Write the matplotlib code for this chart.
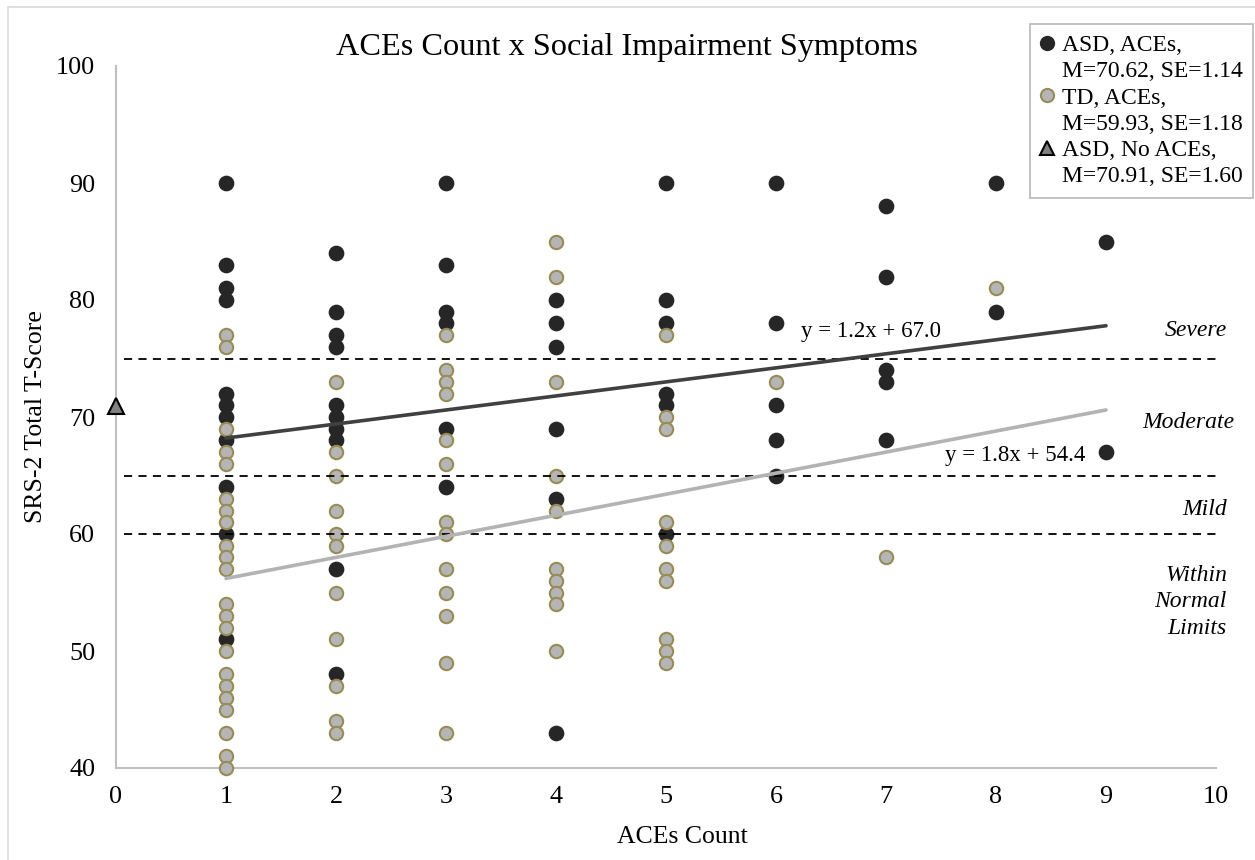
import matplotlib
matplotlib.use('Agg')
import matplotlib.pyplot as plt
from matplotlib.lines import Line2D
from matplotlib.patches import Rectangle

plt.rcParams['font.family'] = ['Liberation Serif', 'DejaVu Serif']

# ASD with ACEs: x = ACEs count, y = SRS-2 T-score
asd_x = [1] * 11 + [2] * 10 + [3] * 6 + [4] * 6 + [5] * 6 + [6] * 5 + [7] * 5 + [8] * 2 + [9] * 2
asd_y = [90, 83, 81, 80, 72, 71, 70, 68, 64, 60, 51,
         84, 79, 77, 76, 71, 70, 69, 68, 57, 48,
         90, 83, 79, 78, 69, 64,
         80, 78, 76, 69, 63, 43,
         90, 80, 78, 72, 71, 60,
         90, 78, 71, 68, 65,
         88, 82, 74, 73, 68,
         90, 79,
         85, 67]

# TD with ACEs
td_x = [1] * 22 + [2] * 11 + [3] * 13 + [4] * 10 + [5] * 10 + [6] + [7] + [8]
td_y = [77, 76, 69, 67, 66, 63, 62, 61, 59, 58, 57, 54, 53, 52, 50, 48, 47, 46, 45, 43, 41, 40,
        73, 67, 65, 62, 60, 59, 55, 51, 47, 44, 43,
        77, 74, 73, 72, 68, 66, 61, 60, 57, 55, 53, 49, 43,
        85, 82, 73, 65, 62, 57, 56, 55, 54, 50,
        77, 70, 69, 61, 59, 57, 56, 51, 50, 49,
        73,
        58,
        81]

# ASD without ACEs (group mean)
noace_x = [0]
noace_y = [70.91]

# trend lines (slope, intercept) over x = 1..9
asd_trend = (1.2, 67.0)
td_trend = (1.8, 54.4)
trend_x = [1, 9]

# severity cut-offs
cutoffs = [75, 65, 60]
bands = ['Severe', 'Moderate', 'Mild', 'Within\nNormal\nLimits']

legend_labels = [('ASD, ACEs,', 'M=70.62, SE=1.14'),
                 ('TD, ACEs,', 'M=59.93, SE=1.18'),
                 ('ASD, No ACEs,', 'M=70.91, SE=1.60')]

W, H = 1255, 860
fig = plt.figure(figsize=(W / 100, H / 100), dpi=100)
fig.patches.append(Rectangle((8 / W, -0.1), 1.2, 1 - 7 / H + 0.1, transform=fig.transFigure,
                             fill=False, edgecolor='#d9d9d9', linewidth=1.2))
ax = fig.add_axes([116 / W, 1 - 768 / H, 1100 / W, 702 / H])

black = '#262626'
td_face = '#b5b5b5'
td_edge = '#978c55'

ax.plot(asd_x, asd_y, 'o', color=black, ms=10.3, mec=black, zorder=3, clip_on=False)
ax.plot(td_x, td_y, 'o', color=td_face, ms=9.6, mec=td_edge, mew=1.5, zorder=4, clip_on=False)
ax.plot(noace_x, noace_y, '^', color='#808080', ms=11, mec='black', mew=1.5, zorder=5, clip_on=False)

for c in cutoffs:
    ax.hlines(c, 0.07, 10, colors='black', linestyles=(0, (4.5, 3.5)), linewidth=1.3, zorder=5)

for (m, b), col in [(asd_trend, '#404040'), (td_trend, '#b3b3b3')]:
    ax.plot(trend_x, [m * x + b for x in trend_x], color=col, linewidth=2.6, zorder=6,
            solid_capstyle='round')

ax.text(6.86, 77.3, 'y = %.1fx + %.1f' % asd_trend, ha='center', va='center', fontsize=16.5)
ax.text(8.17, 66.7, 'y = %.1fx + %.1f' % td_trend, ha='center', va='center', fontsize=16.5)

band_pos = [(10.1, 77.4), (10.17, 69.5), (10.1, 62.1), (10.1, 54.2)]
for lab, (bx, by) in zip(bands, band_pos):
    ax.text(bx, by, lab, ha='right', va='center', style='italic', fontsize=17,
            linespacing=1.35, clip_on=False)

ax.set_xlim(0, 10)
ax.set_ylim(40, 100)
ax.set_xticks(range(0, 11))
ax.set_yticks(range(40, 101, 10))
ax.tick_params(length=0, labelsize=18.8, colors='black')
ax.tick_params(axis='x', pad=13)
ax.tick_params(axis='y', pad=15)
for s in ['top', 'right']:
    ax.spines[s].set_visible(False)
for s in ['left', 'bottom']:
    ax.spines[s].set_color('#bfbfbf')
    ax.spines[s].set_linewidth(1.5)

ax.set_xlabel('ACEs Count', fontsize=18.5)
ax.set_ylabel('SRS-2 Total T-Score', fontsize=18.5)
ax.xaxis.set_label_coords(0.515, -0.083)
ax.yaxis.set_label_coords(-0.063, 0.5)

fig.text(627 / W, 1 - 47 / H, 'ACEs Count x Social Impairment Symptoms',
         ha='center', va='center', fontsize=23.2)

blank = Line2D([], [], linestyle='none')
handles = [Line2D([], [], linestyle='none', marker='o', color=black, ms=10),
           blank,
           Line2D([], [], linestyle='none', marker='o', color=td_face, mec=td_edge, mew=1.5, ms=9.5),
           blank,
           Line2D([], [], linestyle='none', marker='^', color='#808080', mec='black', mew=1.5, ms=10),
           blank]
labels = [t for pair in legend_labels for t in pair]
leg = fig.legend(handles, labels, loc='upper right', bbox_to_anchor=(1253 / W, 1 - 24 / H),
                 fontsize=17, frameon=True, fancybox=False, edgecolor='#a6a6a6',
                 borderpad=0.45, labelspacing=0.2, handlelength=0.6, handletextpad=0.3,
                 borderaxespad=0)
leg.get_frame().set_linewidth(1.2)

fig.savefig('out.png', dpi=100)
